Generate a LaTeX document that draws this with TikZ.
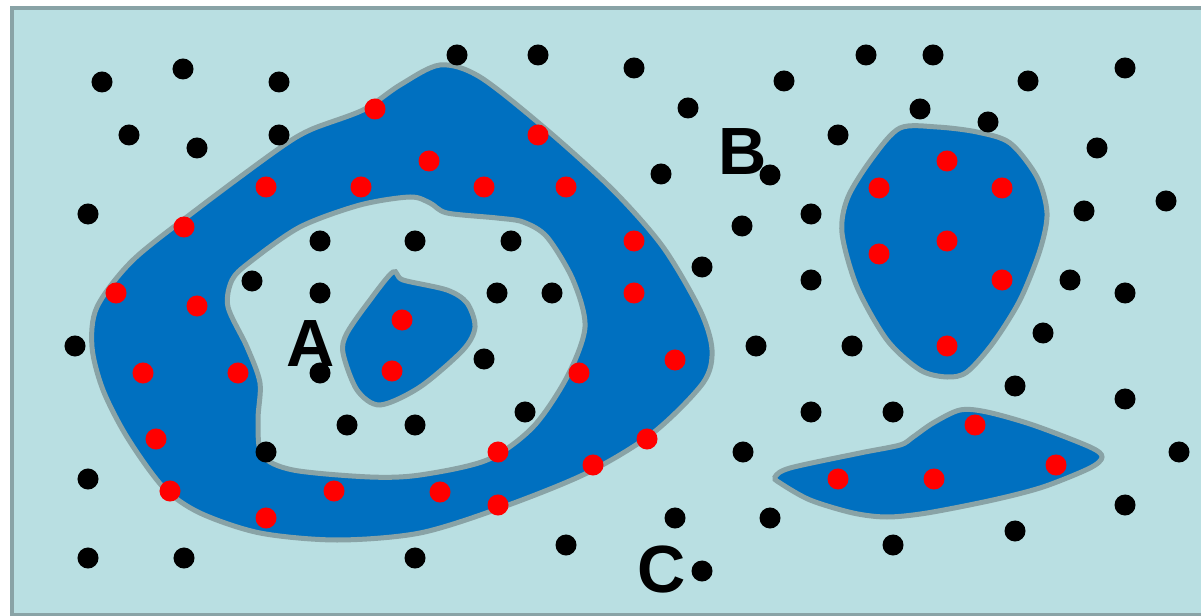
\documentclass[tikz,border=0pt]{standalone}
\usepackage{fontspec}
\setmainfont{Liberation Sans}
\usetikzlibrary{calc}

\begin{document}
\begin{tikzpicture}[x=0.01cm, y=-0.01cm,
    region/.style={fill=regionColour, draw=edgeColour, line width=0.05cm},
    setlabel/.style={font=\fontsize{19}{19}\selectfont\bfseries, inner sep=0pt}]
    % Define colours
    \definecolor{backColour}{HTML}{B9DFE2}
    \definecolor{edgeColour}{HTML}{89A3A6}
    \definecolor{regionColour}{HTML}{0070C0}
    \definecolor{hitColour}{HTML}{FF0000}

    % Define dot size
    \def\dotRadius{1.05mm}

    % Fix the page size
    \useasboundingbox (0,0) rectangle (1201,616);

    % Draw background
    \filldraw[fill=backColour, draw=edgeColour, line width=0.04cm] (12,8) rectangle (1212,614.5);

    % Draw the ring around A, with its hole
    \path[region, even odd rule]
        plot[smooth cycle] coordinates {(440,65) (480,77) (547,130) (613,190) (663,247) (700,310) (712,350) (703,383) (653,433) (587,473) (503,507) (420,533) (337,540) (260,533) (200,513) (163,487) (127,437) (103,390) (92,347) (97,307) (133,260) (200,207) (277,150) (310,130) (363,110) (400,85)}
        plot[smooth cycle] coordinates {(410,197) (430,203) (447,213) (497,218) (523,222) (547,237) (573,280) (585,327) (567,377) (533,427) (487,460) (420,475) (370,477) (293,470) (262,455) (258,420) (260,383) (247,347) (228,307) (232,280) (250,262) (300,227) (360,205)};

    % Draw the small region inside the hole
    \path[region] plot[smooth cycle] coordinates {(393,272) (403,280) (447,290) (467,303) (475,327) (463,350) (420,387) (380,405) (357,390) (343,353) (347,333) (370,300)};

    % Draw the region on the right
    \path[region] plot[smooth cycle] coordinates {(900,128) (937,127) (977,132) (1010,143) (1037,177) (1047,213) (1040,250) (1020,300) (993,343) (967,372) (947,377) (920,370) (887,340) (857,287) (842,233) (848,197) (873,157)};

    % Draw the flat region at the bottom
    \path[region] plot[smooth cycle] coordinates {(775,477) (790,468) (860,453) (900,445) (913,437) (933,423) (960,410) (987,412) (1033,425) (1090,447) (1102,457) (1090,468) (1043,487) (993,500) (927,513) (887,517) (853,513) (810,500) (780,483)};

    % Label the sets
    \node[setlabel] (labelA) at (311,344) {A};
    \node[setlabel] (labelB) at (743,152) {B};
    \node[setlabel] (labelC) at (662,569) {C};

    % Black points
    \foreach \x/\y in {102/82, 183/69, 279/82, 457/55, 538/55, 634/68, 784/81, 866/55, 933/55, 1028/81, 1125/68,
        129/135, 197/148, 279/135, 688/108, 920/109, 988/122, 838/135, 1097/148, 661/174, 770/175,
        88/214, 811/214, 1084/211, 1166/201, 742/226, 320/241, 415/241, 511/241,
        702/267, 252/281, 811/280, 1070/280, 1125/293, 320/293, 497/293, 552/293, 1043/333,
        75/346, 756/346, 852/346, 484/359, 320/373, 1015/386, 811/412, 893/412, 1125/399, 525/412,
        347/425, 415/425, 266/452, 743/452, 1179/452, 88/479, 675/518, 770/518, 1125/505, 1015/531,
        88/558, 184/558, 415/558, 566/545, 893/545, 702/571}
        \fill[black] (\x,\y) circle[radius=\dotRadius];

    % Red points
    \foreach \x/\y in {375/109, 538/135, 429/161, 266/187, 361/187, 484/187, 566/187, 184/227, 634/241,
        116/293, 197/306, 634/293, 402/320, 675/360, 143/373, 238/373, 392/371, 579/373, 156/439,
        647/439, 498/452, 593/465, 170/491, 334/491, 440/492, 498/505, 266/518,
        947/161, 879/188, 1002/188, 947/241, 879/254, 1002/280, 947/346,
        975/425, 838/479, 934/479, 1056/465}
        \fill[hitColour] (\x,\y) circle[radius=\dotRadius];

\end{tikzpicture}
\end{document}
